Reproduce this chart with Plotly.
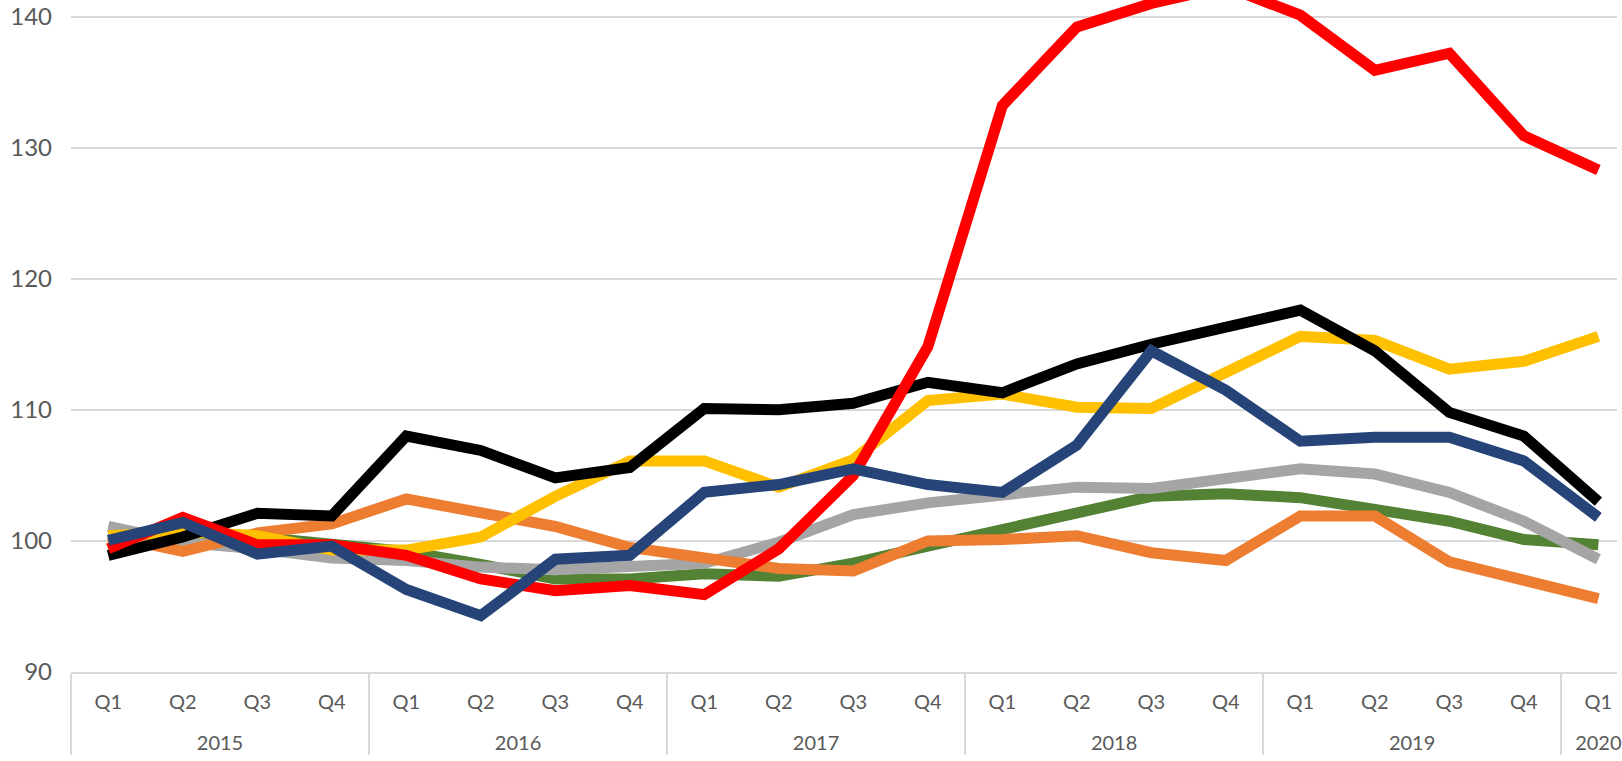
import plotly.graph_objects as go

# leading <br> pushes the year row down to where the reference has it
years = ['<br>2015'] * 4 + ['<br>2016'] * 4 + ['<br>2017'] * 4 + ['<br>2018'] * 4 + ['<br>2019'] * 4 + ['<br>2020']
quarters = ['Q1', 'Q2', 'Q3', 'Q4'] * 5 + ['Q1']

# index values, 2015Q1 .. 2020Q1
green = [100.0, 100.4, 100.3, 99.8, 99.2, 98.2, 97.1, 97.1, 97.5, 97.3, 98.3,
         99.6, 100.9, 102.2, 103.4, 103.6, 103.3, 102.4, 101.5, 100.1, 99.7]
gray = [101.1, 99.9, 99.4, 98.7, 98.5, 98.0, 97.8, 98.1, 98.3, 99.9, 102.0,
        102.9, 103.6, 104.1, 104.0, 104.7, 105.5, 105.1, 103.7, 101.5, 98.6]
orange = [100.4, 99.2, 100.6, 101.3, 103.2, 102.2, 101.1, 99.5, 98.6, 97.9, 97.7,
          100.0, 100.1, 100.4, 99.1, 98.5, 101.9, 101.9, 98.4, 97.1, 95.6]
yellow = [100.4, 100.7, 100.4, 99.3, 99.3, 100.3, 103.4, 106.1, 106.1, 104.1, 106.2,
          110.7, 111.2, 110.2, 110.1, 112.9, 115.6, 115.3, 113.1, 113.7, 115.6]
black = [98.9, 100.3, 102.1, 101.9, 108.0, 106.9, 104.8, 105.6, 110.1, 110.0, 110.5,
         112.1, 111.3, 113.5, 115.0, 116.4, 117.6, 114.5, 109.8, 108.0, 103.0]
red = [99.4, 101.8, 99.7, 99.7, 98.9, 97.1, 96.2, 96.6, 95.9, 99.4, 105.0,
       114.8, 133.2, 139.2, 141.0, 142.3, 140.1, 135.9, 137.2, 130.9, 128.3]
blue = [100.05, 101.4, 99.0, 99.6, 96.3, 94.3, 98.6, 98.9, 103.7, 104.3, 105.5,
        104.3, 103.7, 107.3, 114.5, 111.5, 107.6, 107.9, 107.9, 106.1, 101.8]

series = [
    ('green', green, '#548235'),
    ('gray', gray, '#A5A5A5'),
    ('orange', orange, '#ED7D31'),
    ('yellow', yellow, '#FFC000'),
    ('black', black, '#000000'),
    ('red', red, '#FF0000'),
    ('blue', blue, '#264478'),
]

fig = go.Figure()
for name, vals, col in series:
    fig.add_trace(go.Scatter(
        x=[years, quarters],
        y=vals,
        name=name,
        mode='lines',
        line=dict(color=col, width=11),
    ))

fig.update_layout(
    width=1622, height=761,
    margin=dict(l=71, r=0, t=0, b=89),
    paper_bgcolor='white',
    plot_bgcolor='white',
    showlegend=False,
    font=dict(family='Lato, Open Sans, sans-serif', size=20, color='#595959'),
)

fig.update_xaxes(
    type='multicategory',
    range=[-0.5, 20.25],
    showline=True, linecolor='#d9d9d9', linewidth=1.5,
    showgrid=False,
    showdividers=True, dividercolor='#d9d9d9', dividerwidth=1.5,
    ticklabelstandoff=11,
    tickfont=dict(size=20, color='#595959'),
)
fig.update_yaxes(
    range=[90, 141.26],
    tickvals=[90, 100, 110, 120, 130, 140],
    showgrid=True, gridcolor='#d9d9d9', gridwidth=1.5,
    showline=False, zeroline=False,
    ticklabelstandoff=18,
    tickfont=dict(size=24, color='#595959'),
)

# the page body has an 8px default margin; drop it so the chart fills the window
fig.write_html('out.html', config={'displayModeBar': False},
               post_script="document.body.style.margin='0';")
